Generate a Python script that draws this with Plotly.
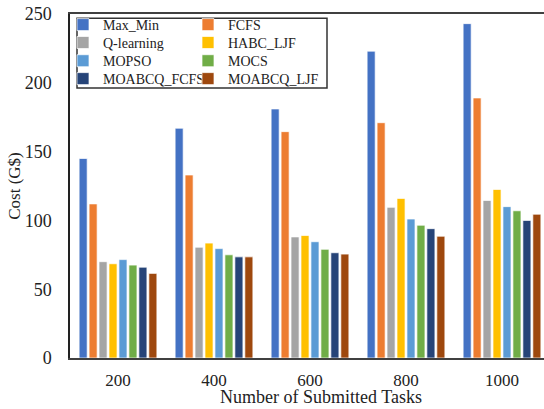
import plotly.graph_objects as go

tasks = ["200", "400", "600", "800", "1000"]
series_names = ["Max_Min", "FCFS", "Q-learning", "HABC_LJF", "MOPSO", "MOCS", "MOABCQ_FCFS", "MOABCQ_LJF"]
max_min = [145, 167, 181, 223, 243]
fcfs = [112, 133, 164.5, 171, 189]
q_learning = [70, 80.5, 88, 109.5, 114.5]
habc_ljf = [68.5, 83.5, 89, 116, 122.5]
mopso = [71.5, 79.5, 84.5, 101, 110]
mocs = [67.5, 75, 79, 96.5, 107]
moabcq_fcfs = [66, 73.5, 76.5, 94, 100]
moabcq_ljf = [61.5, 73.5, 75.5, 88.5, 104.5]
colors = ["#4472C4", "#ED7D31", "#A5A5A5", "#FFC000", "#5B9BD5", "#70AD47", "#264478", "#9E480E"]
y_ticks = [0, 50, 100, 150, 200, 250]
x_title = "Number of Submitted Tasks"
y_title = "Cost (G$)"

values = [max_min, fcfs, q_learning, habc_ljf, mopso, mocs, moabcq_fcfs, moabcq_ljf]
FONT = "Liberation Serif, Times New Roman, serif"

# plot area: 478 px wide (slightly wider than the window, as in the cropped original)
W_PLOT = 478.0

def px_x(p):
    return (p - 70) / W_PLOT

# legend layout: two columns, four rows (one single-item legend per series)
legend_cols_x = [px_x(63), px_x(188)]
legend_rows_y = [0.968, 0.916, 0.863, 0.811]

fig = go.Figure()
legend_layouts = {}
for i, (name, vals, col) in enumerate(zip(series_names, values, colors)):
    key = "legend" if i == 0 else f"legend{i + 1}"
    fig.add_trace(go.Bar(
        x=tasks, y=vals, name=name, showlegend=True,
        marker=dict(color=col, line=dict(color="rgba(255,255,255,0.7)", width=1)),
        legend=key,
    ))
    legend_layouts[key] = dict(
        x=legend_cols_x[i % 2], y=legend_rows_y[i // 2],
        xanchor="left", yanchor="middle",
        bgcolor="rgba(0,0,0,0)", font=dict(size=14), itemwidth=30,
    )

fig.update_layout(
    width=548, height=409, showlegend=True,
    margin=dict(l=70, r=0, t=14, b=51, autoexpand=False),
    paper_bgcolor="white", plot_bgcolor="white",
    font=dict(family=FONT, size=17, color="#222"),
    barmode="group", bargap=0.17, bargroupgap=0.19,
    xaxis=dict(
        type="category", range=[-0.5, -0.5 + W_PLOT / 96.0], automargin=False,
        showline=True, linecolor="#404040", linewidth=1.5, mirror=True,
        showgrid=False, ticks="", ticklabelstandoff=6, tickfont=dict(size=17),
    ),
    yaxis=dict(
        range=[0, 250], tickvals=y_ticks, showgrid=False, zeroline=False, automargin=False,
        showline=True, linecolor="#222", linewidth=1.5, ticks="",
        ticklabelstandoff=13, tickfont=dict(size=18),
        title=dict(text=y_title, standoff=0, font=dict(size=17)),
    ),
    annotations=[dict(text=x_title, xref="paper", yref="paper", x=px_x(321), y=-0.113,
                      xanchor="center", yanchor="middle", showarrow=False,
                      font=dict(size=18))],
    shapes=[dict(type="rect", xref="paper", yref="paper",
                 x0=px_x(77), x1=px_x(327), y0=0.785, y1=0.988,
                 line=dict(color="#333", width=1.5), fillcolor="rgba(0,0,0,0)")],
    **legend_layouts,
)

fig.write_html("out.html", config={"displayModeBar": False},
               post_script="document.body.style.margin='0';")
